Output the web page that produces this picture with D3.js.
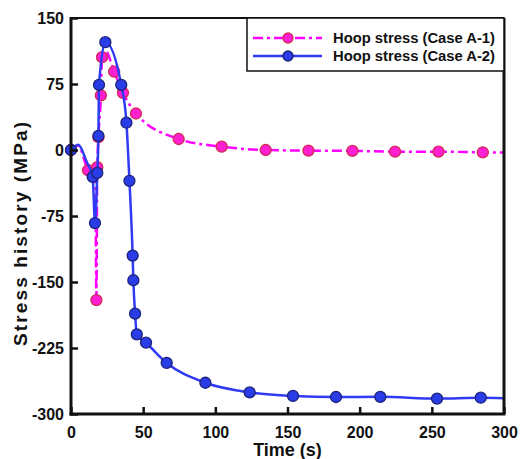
<!DOCTYPE html>
<html>
<head>
<meta charset="utf-8">
<script src="https://cdn.jsdelivr.net/npm/d3@7"></script>
<style>
  html, body { margin: 0; padding: 0; background: #fff; }
  svg { display: block; }
  text { font-family: Arial, "Liberation Sans", sans-serif; font-weight: bold; fill: #111; }
</style>
</head>
<body>
<svg id="chart" width="520" height="459"></svg>
<script>
// Hoop stress history, Case A-1 (dash-dot) and Case A-2 (solid)
const timeA1   = [0, 5, 11.8, 16.8, 17.6, 18.2, 19.0, 20.7, 21.5, 24, 29.9, 36, 45, 74.6, 104.4, 134.9, 164.5, 195, 224.5, 254.6, 285.3, 300];
const stressA1 = [0, 5, -23, -30, -170.5, -19.5, 14.5, 62, 105.5, 112, 89, 65, 41.5, 12.5, 3.8, 0, -0.7, -1, -1.9, -1.9, -2.6, -2.8];
const markA1   = [1, 0, 1, 0, 1, 1, 1, 1, 1, 0, 1, 1, 1, 1, 1, 1, 1, 1, 1, 1, 1, 0];

const timeA2   = [0, 5, 11, 15, 16.6, 18.2, 19.0, 19.4, 23.8, 34.8, 38.4, 40.5, 42.7, 43.2, 44.4, 45.6, 52, 66.3, 93.1, 123.8, 153.8, 183.6, 214.3, 253.6, 283.9, 300];
const stressA2 = [0, 6, -14, -30.5, -83, -26, 16, 74, 122.5, 74, 31, -35, -120, -148, -186, -209.5, -219, -242, -264.5, -275.5, -279.5, -280.7, -280.5, -282.5, -281.5, -282];
const markA2   = [1, 0, 0, 1, 1, 1, 1, 1, 1, 1, 1, 1, 1, 1, 1, 1, 1, 1, 1, 1, 1, 1, 1, 1, 1, 0];

const xTicks = [0, 50, 100, 150, 200, 250, 300];
const yTicks = [150, 75, 0, -75, -150, -225, -300];
const legendLabels = ["Hoop stress (Case A-1)", "Hoop stress (Case A-2)"];

const margin = { left: 71, right: 16, top: 18, bottom: 45 };
const W = 520, H = 459;
const x = d3.scaleLinear().domain([0, 300]).range([margin.left, W - margin.right]);
const y = d3.scaleLinear().domain([-300, 150]).range([H - margin.bottom, margin.top]);

const svg = d3.select("#chart");

const style = {
  a1: { line: "#ff00ff", fill: "#ff1fd2", stroke: "#d12a55", dash: "10,4,3,4" },
  a2: { line: "#2f3af2", fill: "#2a3ce6", stroke: "#1b237a", dash: null }
};

function series(t, v, m) { return t.map((d, i) => ({ t: d, v: v[i], m: m[i] })); }
const dataA1 = series(timeA1, stressA1, markA1);
const dataA2 = series(timeA2, stressA2, markA2);

const line = d3.line().x(d => x(d.t)).y(d => y(d.v)).curve(d3.curveMonotoneX);

const plot = svg.append("g");
plot.append("defs").append("clipPath").attr("id", "clip")
  .append("rect").attr("x", x(0)).attr("y", y(150)).attr("width", x(300) - x(0)).attr("height", y(-300) - y(150));

function drawSeries(data, s) {
  const g = plot.append("g").attr("clip-path", "url(#clip)");
  g.append("path").datum(data)
    .attr("fill", "none").attr("stroke", s.line).attr("stroke-width", 2.5)
    .attr("stroke-dasharray", s.dash).attr("d", line);
}
function drawMarkers(data, s) {
  plot.append("g").selectAll("circle").data(data.filter(d => d.m)).join("circle")
    .attr("cx", d => x(d.t)).attr("cy", d => y(d.v)).attr("r", 5.5)
    .attr("fill", s.fill).attr("stroke", s.stroke).attr("stroke-width", 1.3);
}
drawSeries(dataA1, style.a1);
drawMarkers(dataA1, style.a1);
drawSeries(dataA2, style.a2);
drawMarkers(dataA2, style.a2);

// Axes with inward ticks; plain hyphen for negative labels
const fmt = d => String(d);
const xAxis = svg.append("g").attr("transform", `translate(0,${y(-300)})`)
  .call(d3.axisBottom(x).tickValues(xTicks).tickSize(-7).tickPadding(13).tickFormat(fmt));
const yAxis = svg.append("g").attr("transform", `translate(${x(0)},0)`)
  .call(d3.axisLeft(y).tickValues(yTicks).tickSize(-7).tickPadding(7).tickFormat(fmt));
[xAxis, yAxis].forEach(a => {
  a.select(".domain").remove();
  a.selectAll(".tick line").attr("stroke", "#111").attr("stroke-width", 2.5);
  a.selectAll(".tick text").style("font-size", "16px").attr("fill", "#111");
});

// Frame
svg.append("line").attr("x1", x(0)).attr("x2", x(300)).attr("y1", y(150)).attr("y2", y(150)).attr("stroke", "#111").attr("stroke-width", 2);
svg.append("line").attr("x1", x(300)).attr("x2", x(300)).attr("y1", y(150)).attr("y2", y(-300)).attr("stroke", "#111").attr("stroke-width", 3);
svg.append("line").attr("x1", x(0)).attr("x2", x(0)).attr("y1", y(150) - 1).attr("y2", y(-300) + 1.5).attr("stroke", "#111").attr("stroke-width", 3);
svg.append("line").attr("x1", x(0) - 1.5).attr("x2", x(300) + 1.5).attr("y1", y(-300)).attr("y2", y(-300)).attr("stroke", "#111").attr("stroke-width", 3);

// Axis titles
svg.append("text").attr("x", (x(0) + x(300)) / 2).attr("y", 456)
  .attr("text-anchor", "middle").style("font-size", "18px").text("Time (s)");
svg.append("text").attr("transform", `translate(27,${(y(150) + y(-300)) / 2 + 18}) rotate(-90)`)
  .attr("text-anchor", "middle").style("font-size", "19px")
  .attr("textLength", 224).attr("lengthAdjust", "spacing").text("Stress history (MPa)");

// Legend
const lg = svg.append("g");
lg.append("rect").attr("x", 247).attr("y", y(150)).attr("width", x(300) - 247).attr("height", 53)
  .attr("fill", "#fff").attr("stroke", "#111").attr("stroke-width", 1.5);
[style.a1, style.a2].forEach((s, i) => {
  const ly = 38 + i * 18;
  lg.append("line").attr("x1", 253).attr("x2", 322).attr("y1", ly).attr("y2", ly)
    .attr("stroke", s.line).attr("stroke-width", 2.5).attr("stroke-dasharray", s.dash);
  lg.append("circle").attr("cx", 288).attr("cy", ly).attr("r", 5)
    .attr("fill", s.fill).attr("stroke", s.stroke).attr("stroke-width", 1.3);
  lg.append("text").attr("x", 333).attr("y", ly + 5).style("font-size", "14px")
    .attr("textLength", 162).attr("lengthAdjust", "spacingAndGlyphs").text(legendLabels[i]);
});
</script>
</body>
</html>
